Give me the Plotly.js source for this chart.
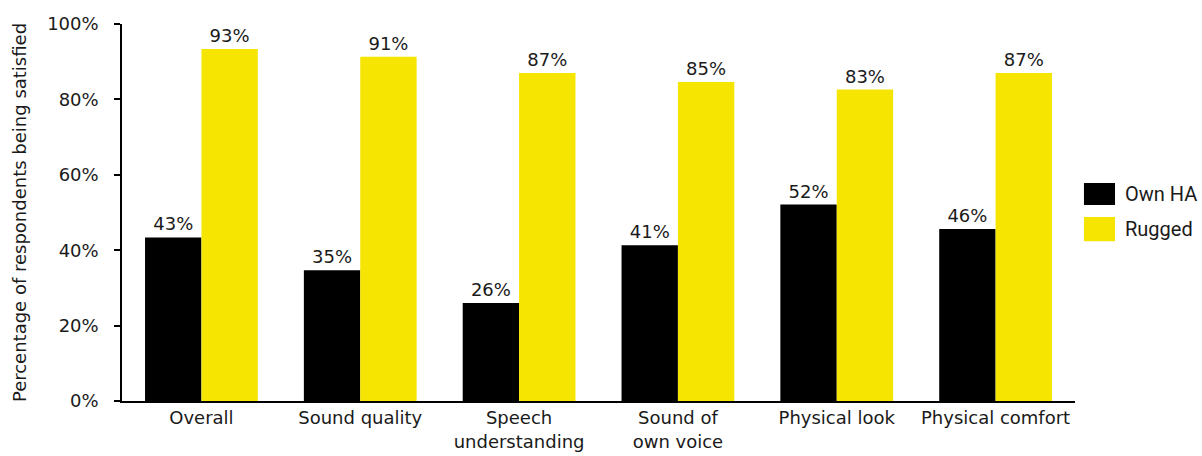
<!DOCTYPE html>
<html>
<head>
<meta charset="utf-8">
<script src="https://cdn.plot.ly/plotly-3.0.1.min.js"></script>
<style>html,body{margin:0;padding:0;background:#fff;}#chart{width:1202px;height:456px;}</style>
</head>
<body>
<div id="chart"></div>
<script>
const categories = ["Overall", "Sound quality", "Speech<br>understanding", "Sound of<br>own voice", "Physical look", "Physical comfort"];
const seriesNames = ["Own HA", "Rugged"];
const ownHA = [43.4, 34.7, 26.0, 41.3, 52.1, 45.6];
const rugged = [93.4, 91.3, 87.0, 84.6, 82.6, 87.0];
const yTickVals = [0, 20, 40, 60, 80, 100];
const yTickText = ["0%", "20%", "40%", "60%", "80%", "100%"];
const colors = ["#000000", "#F6E500"];

const mainFont = "'DejaVu Sans', sans-serif";
const txtColor = "#1a1a1a";
const traces = [ownHA, rugged].map((vals, i) => ({
  type: "bar",
  name: seriesNames[i],
  x: categories,
  y: vals,
  marker: {color: colors[i], line: {width: 0}},
  texttemplate: "%{y:.0f}%",
  textposition: "outside",
  cliponaxis: false,
  textfont: {family: mainFont, size: 18, color: txtColor},
  showlegend: false,
  hoverinfo: "x+y"
}));

// custom legend (large swatches)
const legY = [[0.578, 0.520], [0.488, 0.424]];
const shapes = seriesNames.map((n, i) => ({
  type: "rect", xref: "paper", yref: "paper",
  x0: 1.0094, x1: 1.042, y0: legY[i][1], y1: legY[i][0],
  fillcolor: colors[i], line: {width: 0}
}));
const annotations = seriesNames.map((n, i) => ({
  xref: "paper", yref: "paper", x: 1.0505, y: (legY[i][0] + legY[i][1]) / 2,
  xanchor: "left", yanchor: "middle", showarrow: false, text: n,
  font: {family: "Roboto, 'Liberation Sans', sans-serif", size: 20, color: txtColor}
}));

const layout = {
  width: 1202, height: 456,
  margin: {l: 122, r: 127, t: 24, b: 55},
  paper_bgcolor: "#fff", plot_bgcolor: "#fff",
  barmode: "group",
  bargap: 0.29, bargroupgap: 0,
  font: {family: mainFont, size: 18, color: txtColor},
  xaxis: {
    type: "category",
    showline: true, linecolor: "#000", linewidth: 1.5,
    ticks: "", showgrid: false, zeroline: false,
    tickfont: {family: mainFont, size: 18, color: txtColor}
  },
  yaxis: {
    range: [0, 100],
    tickvals: yTickVals, ticktext: yTickText,
    showline: true, linecolor: "#000", linewidth: 1.5,
    ticks: "outside", ticklen: 6, tickcolor: "#000", tickwidth: 1.5,
    ticklabelstandoff: 12,
    showgrid: false, zeroline: false,
    tickfont: {family: mainFont, size: 18, color: txtColor},
    title: {text: "Percentage of respondents being satisfied", font: {family: mainFont, size: 18, color: txtColor}, standoff: 16}
  },
  shapes: shapes,
  annotations: annotations
};

Plotly.newPlot("chart", traces, layout, {displayModeBar: false, responsive: false});
</script>
</body>
</html>
